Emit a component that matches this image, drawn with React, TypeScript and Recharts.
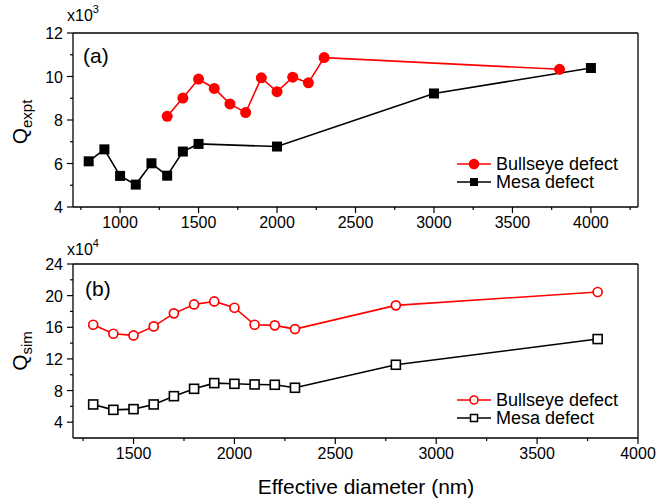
import React from "react";
import { LineChart, Line, XAxis, YAxis } from "recharts";

// panel (a): measured Q (x10^3)
const aBullX = [1300, 1400, 1500, 1600, 1700, 1800, 1900, 2000, 2100, 2200, 2300, 3800];
const aBullY = [8.17, 9.01, 9.88, 9.45, 8.74, 8.34, 9.94, 9.3, 9.97, 9.71, 10.87, 10.33];
const aMesaX = [800, 900, 1000, 1100, 1200, 1300, 1400, 1500, 2000, 3000, 4000];
const aMesaY = [6.1, 6.65, 5.43, 5.03, 6.01, 5.44, 6.55, 6.9, 6.78, 9.22, 10.39];

// panel (b): simulated Q (x10^4)
const bX = [1300, 1400, 1500, 1600, 1700, 1800, 1900, 2000, 2100, 2200, 2300, 2800, 3800];
const bBullY = [16.32, 15.18, 14.97, 16.11, 17.76, 18.89, 19.27, 18.47, 16.32, 16.24, 15.77, 18.77, 20.46];
const bMesaY = [6.24, 5.56, 5.65, 6.24, 7.29, 8.22, 8.94, 8.85, 8.77, 8.73, 8.35, 11.26, 14.51];

const aXTicks = [750, 1000, 1250, 1500, 1750, 2000, 2250, 2500, 2750, 3000, 3250, 3500, 3750, 4000, 4250];
const aXMajor = [1000, 1500, 2000, 2500, 3000, 3500, 4000];
const aYTicks = [4, 5, 6, 7, 8, 9, 10, 11, 12];
const aYMajor = [4, 6, 8, 10, 12];
const bXTicks = [1250, 1500, 1750, 2000, 2250, 2500, 2750, 3000, 3250, 3500, 3750, 4000];
const bXMajor = [1500, 2000, 2500, 3000, 3500, 4000];
const bYTicks = [4, 6, 8, 10, 12, 14, 16, 18, 20, 22, 24];
const bYMajor = [4, 8, 12, 16, 20, 24];

const seriesNames = ["Bullseye defect", "Mesa defect"];

const FONT = "'Liberation Sans', Arial, sans-serif";
const RED = "#ff0000";
const SW = 1.6;

const toPts = (xs: number[], ys: number[]) => xs.map((x, i) => ({ x, y: ys[i] }));

// tick drawer: bottom/left point outward with labels, top/right point inward
const makeTick = (pos: "bottom" | "left" | "top" | "right", major: number[], label: boolean) => (props: any) => {
  const { x, y, payload } = props;
  const isMajor = major.includes(payload.value);
  const len = isMajor ? 6 : 3;
  let line = null;
  if (pos === "bottom" || pos === "top") line = <line x1={x} y1={y} x2={x} y2={y + len} stroke="#000" strokeWidth={1.2} />;
  if (pos === "left" || pos === "right") line = <line x1={x} y1={y} x2={x - len} y2={y} stroke="#000" strokeWidth={1.2} />;
  let txt = null;
  if (label && isMajor && pos === "bottom")
    txt = (
      <text x={x} y={y + 21} textAnchor="middle" fontSize={16} fontFamily={FONT} fill="#000">
        {payload.value}
      </text>
    );
  if (label && isMajor && pos === "left")
    txt = (
      <text x={x - 10} y={y + 6} textAnchor="end" fontSize={16} fontFamily={FONT} fill="#000">
        {payload.value}
      </text>
    );
  return (
    <g>
      {line}
      {txt}
    </g>
  );
};

const FilledSquare = (props: any) => {
  const { cx, cy } = props;
  if (cx == null || cy == null) return <g />;
  return <rect x={cx - 5} y={cy - 5} width={10} height={10} fill="#000" />;
};
const OpenSquare = (props: any) => {
  const { cx, cy } = props;
  if (cx == null || cy == null) return <g />;
  return <rect x={cx - 4.5} y={cy - 4.5} width={9} height={9} fill="#fff" stroke="#000" strokeWidth={1.6} />;
};

const LegendBox = ({ y, filled }: { y: number; filled: boolean }) => (
  <g fontFamily={FONT}>
    <line x1={457} y1={y} x2={491} y2={y} stroke={RED} strokeWidth={SW} />
    <circle cx={474} cy={y} r={filled ? 4.5 : 4} fill={filled ? RED : "#fff"} stroke={RED} strokeWidth={1.6} />
    <text x={496} y={y + 6} fontSize={18} fill="#000">
      {seriesNames[0]}
    </text>
    <line x1={457} y1={y + 18} x2={491} y2={y + 18} stroke="#000" strokeWidth={SW} />
    {filled ? (
      <rect x={470} y={y + 14} width={8} height={8} fill="#000" />
    ) : (
      <rect x={470.5} y={y + 14.5} width={7} height={7} fill="#fff" stroke="#000" strokeWidth={1.5} />
    )}
    <text x={496} y={y + 24} fontSize={18} fill="#000">
      {seriesNames[1]}
    </text>
  </g>
);

const axisLine = { stroke: "#000", strokeWidth: 1.3 };

const Frame = ({ xDomain, xTicks, xMajor, yDomain, yTicks, yMajor }: any) => [
  <XAxis
    key="xb"
    xAxisId="b"
    dataKey="x"
    type="number"
    domain={xDomain}
    ticks={xTicks}
    interval={0}
    height={1}
    tickSize={0}
    tickMargin={0}
    tickLine={false}
    axisLine={axisLine}
    tick={makeTick("bottom", xMajor, true)}
  />,
  <XAxis
    key="xt"
    xAxisId="t"
    orientation="top"
    dataKey="x"
    type="number"
    domain={xDomain}
    ticks={xTicks}
    interval={0}
    height={1}
    tickSize={0}
    tickMargin={0}
    tickLine={false}
    axisLine={axisLine}
    tick={makeTick("top", xMajor, false)}
  />,
  <YAxis
    key="yl"
    yAxisId="l"
    type="number"
    domain={yDomain}
    ticks={yTicks}
    interval={0}
    width={1}
    tickSize={0}
    tickMargin={0}
    tickLine={false}
    axisLine={axisLine}
    tick={makeTick("left", yMajor, true)}
  />,
  <YAxis
    key="yr"
    yAxisId="r"
    orientation="right"
    type="number"
    domain={yDomain}
    ticks={yTicks}
    interval={0}
    width={1}
    tickSize={0}
    tickMargin={0}
    tickLine={false}
    axisLine={axisLine}
    tick={makeTick("right", yMajor, false)}
  />,
];

export default function App() {
  return (
    <div style={{ position: "absolute", left: 0, top: 0, width: 660, height: 502, background: "#fff" }}>
      <LineChart width={660} height={250} margin={{ top: 32, right: 21, bottom: 42, left: 72 }}>
        {Frame({ xDomain: [700, 4300], xTicks: aXTicks, xMajor: aXMajor, yDomain: [4, 12], yTicks: aYTicks, yMajor: aYMajor })}
        <Line
          xAxisId="b"
          yAxisId="l"
          data={toPts(aMesaX, aMesaY)}
          dataKey="y"
          name={seriesNames[1]}
          stroke="#000"
          strokeWidth={SW}
          dot={<FilledSquare />}
          activeDot={false}
          isAnimationActive={false}
        />
        <Line
          xAxisId="b"
          yAxisId="l"
          data={toPts(aBullX, aBullY)}
          dataKey="y"
          name={seriesNames[0]}
          stroke={RED}
          strokeWidth={SW}
          dot={{ r: 5.5, fill: RED, stroke: RED, strokeWidth: 0 }}
          activeDot={false}
          isAnimationActive={false}
        />
        <text x={67} y={21} fontSize={16} fontFamily={FONT} fill="#000">
          x10
          <tspan dy={-8} fontSize={11}>
            3
          </tspan>
        </text>
        <text x={83} y={63} fontSize={21} fontFamily={FONT} fill="#000">
          (a)
        </text>
        <text transform="rotate(-90 27 122)" x={27} y={122} textAnchor="middle" fontSize={21} fontFamily={FONT} fill="#000">
          Q
          <tspan dy={5} fontSize={15}>
            expt
          </tspan>
        </text>
        <LegendBox y={164} filled={true} />
      </LineChart>
      <div style={{ position: "absolute", left: 0, top: 235 }}>
        <LineChart width={660} height={267} margin={{ top: 28, right: 21, bottom: 63, left: 72 }}>
          {Frame({ xDomain: [1200, 4000], xTicks: bXTicks, xMajor: bXMajor, yDomain: [2, 24], yTicks: bYTicks, yMajor: bYMajor })}
          <Line
            xAxisId="b"
            yAxisId="l"
            data={toPts(bX, bMesaY)}
            dataKey="y"
            name={seriesNames[1]}
            stroke="#000"
            strokeWidth={SW}
            dot={<OpenSquare />}
            activeDot={false}
            isAnimationActive={false}
          />
          <Line
            xAxisId="b"
            yAxisId="l"
            data={toPts(bX, bBullY)}
            dataKey="y"
            name={seriesNames[0]}
            stroke={RED}
            strokeWidth={SW}
            dot={{ r: 4.5, fill: "#fff", stroke: RED, strokeWidth: 1.7 }}
            activeDot={false}
            isAnimationActive={false}
          />
          <text x={67} y={20} fontSize={16} fontFamily={FONT} fill="#000">
            x10
            <tspan dy={-8} fontSize={11}>
              4
            </tspan>
          </text>
          <text x={85} y={61} fontSize={21} fontFamily={FONT} fill="#000">
            (b)
          </text>
          <text transform="rotate(-90 27 116)" x={27} y={116} textAnchor="middle" fontSize={21} fontFamily={FONT} fill="#000">
            Q
            <tspan dy={5} fontSize={15}>
              sim
            </tspan>
          </text>
          <text x={366} y={259} textAnchor="middle" fontSize={21} fontFamily={FONT} fill="#000">
            Effective diameter (nm)
          </text>
          <LegendBox y={165} filled={false} />
        </LineChart>
      </div>
    </div>
  );
}
